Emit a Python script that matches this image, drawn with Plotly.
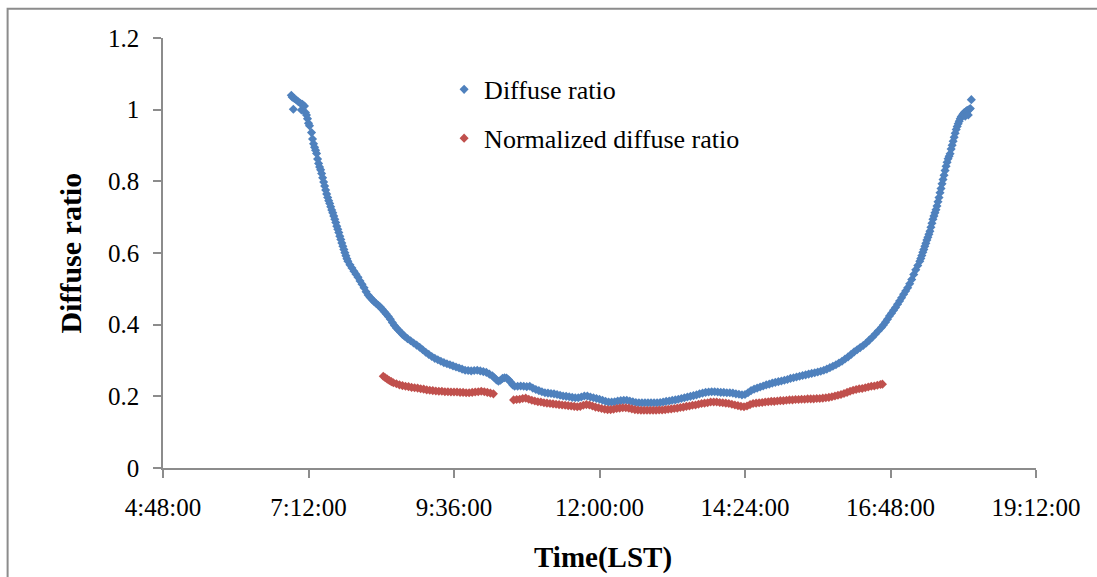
import plotly.graph_objects as go

# ---------------- data ----------------
blue_times = [
    "6:55", "6:56", "6:57", "6:58", "7:00", "7:02", "7:04", "7:05", "7:06", "7:08",
    "7:09", "7:10", "7:11", "7:12", "7:13", "7:15", "7:16", "7:17", "7:18", "7:19",
    "7:20", "7:21", "7:22", "7:23", "7:24", "7:25", "7:26", "7:27", "7:28", "7:29",
    "7:30", "7:31", "7:32", "7:33", "7:34", "7:35", "7:36", "7:37", "7:38", "7:39",
    "7:40", "7:41", "7:42", "7:43", "7:44", "7:45", "7:46", "7:47", "7:48", "7:49",
    "7:50", "7:51", "7:53", "7:55", "7:57", "7:59", "8:01", "8:03", "8:05", "8:07",
    "8:09", "8:11", "8:13", "8:15", "8:17", "8:19", "8:21", "8:23", "8:25", "8:27",
    "8:29", "8:31", "8:33", "8:35", "8:37", "8:39", "8:41", "8:43", "8:45", "8:47",
    "8:50", "8:53", "8:56", "8:59", "9:02", "9:05", "9:08", "9:11", "9:14", "9:17",
    "9:20", "9:23", "9:26", "9:29", "9:32", "9:35", "9:38", "9:41", "9:44", "9:47",
    "9:50", "9:53", "9:56", "9:59", "10:02", "10:05", "10:08", "10:11", "10:14", "10:16",
    "10:18", "10:20", "10:22", "10:24", "10:26", "10:28", "10:30", "10:32", "10:34", "10:36",
    "10:39", "10:42", "10:45", "10:48", "10:51", "10:54", "10:57", "11:00", "11:03", "11:06",
    "11:09", "11:12", "11:15", "11:18", "11:21", "11:24", "11:27", "11:30", "11:33", "11:36",
    "11:39", "11:42", "11:45", "11:48", "11:51", "11:54", "11:57", "12:00", "12:03", "12:06",
    "12:09", "12:12", "12:15", "12:18", "12:21", "12:24", "12:27", "12:30", "12:33", "12:36",
    "12:39", "12:42", "12:45", "12:48", "12:51", "12:54", "12:57", "13:00", "13:03", "13:06",
    "13:09", "13:12", "13:15", "13:18", "13:21", "13:24", "13:27", "13:30", "13:33", "13:36",
    "13:39", "13:42", "13:45", "13:48", "13:51", "13:54", "13:57", "14:00", "14:03", "14:06",
    "14:09", "14:12", "14:15", "14:18", "14:21", "14:24", "14:27", "14:30", "14:33", "14:36",
    "14:39", "14:42", "14:45", "14:48", "14:51", "14:54", "14:57", "15:00", "15:03", "15:06",
    "15:09", "15:12", "15:15", "15:18", "15:21", "15:24", "15:27", "15:30", "15:33", "15:36",
    "15:39", "15:42", "15:45", "15:48", "15:51", "15:54", "15:57", "16:00", "16:03", "16:06",
    "16:09", "16:12", "16:15", "16:18", "16:21", "16:24", "16:27", "16:30", "16:33", "16:36",
    "16:39", "16:41", "16:43", "16:45", "16:47", "16:49", "16:51", "16:53", "16:55", "16:57",
    "16:59", "17:01", "17:03", "17:05", "17:07", "17:09", "17:11", "17:13", "17:15", "17:17",
    "17:18", "17:19", "17:20", "17:21", "17:22", "17:23", "17:24", "17:25", "17:26", "17:27",
    "17:28", "17:29", "17:30", "17:31", "17:32", "17:33", "17:34", "17:35", "17:36", "17:37",
    "17:38", "17:39", "17:40", "17:41", "17:42", "17:43", "17:44", "17:45", "17:46", "17:47",
    "17:48", "17:49", "17:50", "17:51", "17:52", "17:53", "17:54", "17:55", "17:56", "17:57",
    "17:58", "17:59", "18:00", "18:01", "18:02", "18:03", "18:04", "18:05", "18:06", "18:07",
    "18:08",
]
blue_values = [
    1.040, 1.035, 1.001, 1.031, 1.027, 1.022, 1.018, 0.999, 1.015, 1.010,
    0.992, 0.985, 0.975, 0.962, 0.955, 0.936, 0.918, 0.905, 0.895, 0.887,
    0.878, 0.862, 0.850, 0.840, 0.832, 0.822, 0.810, 0.798, 0.787, 0.776,
    0.765, 0.755, 0.746, 0.738, 0.729, 0.720, 0.712, 0.703, 0.694, 0.685,
    0.675, 0.666, 0.657, 0.647, 0.638, 0.628, 0.619, 0.610, 0.601, 0.592,
    0.584, 0.577, 0.567, 0.558, 0.549, 0.541, 0.532, 0.522, 0.513, 0.503,
    0.492, 0.483, 0.476, 0.470, 0.464, 0.459, 0.454, 0.449, 0.443, 0.436,
    0.430, 0.423, 0.415, 0.406, 0.398, 0.391, 0.385, 0.379, 0.373, 0.368,
    0.361, 0.355, 0.349, 0.343, 0.337, 0.330, 0.323, 0.317, 0.311, 0.306,
    0.302, 0.298, 0.294, 0.291, 0.288, 0.285, 0.282, 0.279, 0.276, 0.273,
    0.272, 0.271, 0.272, 0.273, 0.271, 0.269, 0.267, 0.262, 0.257, 0.252,
    0.246, 0.242, 0.245, 0.250, 0.252, 0.251, 0.246, 0.240, 0.232, 0.228,
    0.228, 0.229, 0.228, 0.227, 0.228, 0.223, 0.219, 0.216, 0.213, 0.210,
    0.209, 0.208, 0.207, 0.205, 0.203, 0.201, 0.200, 0.199, 0.197, 0.196,
    0.196, 0.198, 0.201, 0.201, 0.198, 0.196, 0.194, 0.192, 0.189, 0.186,
    0.184, 0.184, 0.185, 0.187, 0.188, 0.189, 0.189, 0.187, 0.185, 0.183,
    0.182, 0.182, 0.182, 0.182, 0.182, 0.182, 0.182, 0.183, 0.184, 0.186,
    0.187, 0.189, 0.190, 0.192, 0.194, 0.196, 0.198, 0.200, 0.202, 0.204,
    0.207, 0.209, 0.211, 0.212, 0.213, 0.213, 0.212, 0.211, 0.211, 0.210,
    0.210, 0.209, 0.207, 0.206, 0.204, 0.205, 0.210, 0.216, 0.220, 0.223,
    0.226, 0.229, 0.232, 0.234, 0.237, 0.239, 0.241, 0.243, 0.245, 0.247,
    0.250, 0.252, 0.254, 0.256, 0.258, 0.260, 0.262, 0.264, 0.266, 0.268,
    0.270, 0.273, 0.276, 0.280, 0.284, 0.288, 0.293, 0.298, 0.304, 0.310,
    0.317, 0.324, 0.330, 0.336, 0.342, 0.349, 0.357, 0.365, 0.374, 0.383,
    0.392, 0.399, 0.407, 0.415, 0.424, 0.432, 0.440, 0.448, 0.457, 0.466,
    0.475, 0.485, 0.494, 0.503, 0.514, 0.526, 0.540, 0.553, 0.565, 0.577,
    0.585, 0.593, 0.602, 0.610, 0.619, 0.627, 0.636, 0.644, 0.652, 0.661,
    0.672, 0.683, 0.694, 0.703, 0.712, 0.721, 0.731, 0.743, 0.755, 0.768,
    0.780, 0.793, 0.805, 0.817, 0.830, 0.842, 0.853, 0.863, 0.870, 0.877,
    0.890, 0.901, 0.912, 0.923, 0.934, 0.945, 0.953, 0.961, 0.968, 0.975,
    0.980, 0.984, 0.988, 0.992, 0.982, 0.996, 0.998, 0.985, 1.001, 1.003,
    1.028,
]

red_times = [
    "8:26", "8:28", "8:30", "8:32", "8:34", "8:36", "8:39", "8:42", "8:45", "8:48",
    "8:51", "8:54", "8:57", "9:00", "9:03", "9:06", "9:09", "9:12", "9:15", "9:18",
    "9:21", "9:24", "9:27", "9:30", "9:33", "9:36", "9:39", "9:42", "9:45", "9:48",
    "9:51", "9:54", "9:57", "10:00", "10:03", "10:06", "10:09", "10:12", "10:15",
    "10:35", "10:38", "10:41", "10:44", "10:47", "10:50", "10:53", "10:56", "10:59", "11:02",
    "11:05", "11:08", "11:11", "11:14", "11:17", "11:20", "11:23", "11:26", "11:29", "11:32",
    "11:35", "11:38", "11:41", "11:44", "11:47", "11:50", "11:53", "11:56", "11:59", "12:02",
    "12:05", "12:08", "12:11", "12:14", "12:17", "12:20", "12:23", "12:26", "12:29", "12:32",
    "12:35", "12:38", "12:41", "12:44", "12:47", "12:50", "12:53", "12:56", "12:59", "13:02",
    "13:05", "13:08", "13:11", "13:14", "13:17", "13:20", "13:23", "13:26", "13:29", "13:32",
    "13:35", "13:38", "13:41", "13:44", "13:47", "13:50", "13:53", "13:56", "13:59", "14:02",
    "14:05", "14:08", "14:11", "14:14", "14:17", "14:20", "14:23", "14:26", "14:29", "14:32",
    "14:35", "14:38", "14:41", "14:44", "14:47", "14:50", "14:53", "14:56", "14:59", "15:02",
    "15:05", "15:08", "15:11", "15:14", "15:17", "15:20", "15:23", "15:26", "15:29", "15:32",
    "15:35", "15:38", "15:41", "15:44", "15:47", "15:50", "15:53", "15:56", "15:59", "16:02",
    "16:05", "16:08", "16:11", "16:14", "16:17", "16:20", "16:23", "16:26", "16:29", "16:32",
    "16:35", "16:38", "16:40",
]
red_values = [
    0.256, 0.252, 0.248, 0.244, 0.241, 0.238, 0.235, 0.232, 0.230, 0.228,
    0.227, 0.225, 0.224, 0.223, 0.221, 0.220, 0.218, 0.217, 0.216, 0.215,
    0.214, 0.214, 0.213, 0.213, 0.212, 0.212, 0.212, 0.211, 0.211, 0.210,
    0.210, 0.211, 0.212, 0.213, 0.214, 0.213, 0.211, 0.209, 0.207,
    0.190, 0.191, 0.192, 0.194, 0.195, 0.192, 0.189, 0.187, 0.185, 0.184,
    0.182, 0.181, 0.180, 0.179, 0.178, 0.177, 0.176, 0.175, 0.174, 0.173,
    0.172, 0.171, 0.172, 0.175, 0.177, 0.176, 0.173, 0.170, 0.168, 0.166,
    0.164, 0.163, 0.163, 0.164, 0.166, 0.167, 0.168, 0.168, 0.167, 0.165,
    0.163, 0.162, 0.161, 0.161, 0.161, 0.161, 0.161, 0.161, 0.162, 0.162,
    0.163, 0.164, 0.165, 0.166, 0.167, 0.169, 0.170, 0.172, 0.173, 0.175,
    0.176, 0.178, 0.180, 0.181, 0.182, 0.184, 0.184, 0.184, 0.183, 0.182,
    0.181, 0.180, 0.178, 0.176, 0.174, 0.172, 0.171, 0.173, 0.177, 0.180,
    0.181, 0.182, 0.183, 0.184, 0.185, 0.186, 0.186, 0.187, 0.188, 0.188,
    0.189, 0.190, 0.190, 0.191, 0.191, 0.192, 0.192, 0.193, 0.193, 0.193,
    0.194, 0.194, 0.195, 0.196, 0.197, 0.199, 0.201, 0.203, 0.205, 0.208,
    0.211, 0.214, 0.217, 0.219, 0.221, 0.222, 0.224, 0.226, 0.228, 0.229,
    0.231, 0.233, 0.234,
]

x_tick_labels = ["4:48:00", "7:12:00", "9:36:00", "12:00:00", "14:24:00", "16:48:00", "19:12:00"]
y_tick_values = [0, 0.2, 0.4, 0.6, 0.8, 1.0, 1.2]
y_tick_labels = ["0", "0.2", "0.4", "0.6", "0.8", "1", "1.2"]

series_names = ["Diffuse ratio", "Normalized diffuse ratio"]
series_colors = ["#4F81BD", "#C0504D"]

DAY = "2000-01-01 "


def to_dt(t):
    parts = t.split(":")
    h, m = parts[0], parts[1]
    s = parts[2] if len(parts) == 3 else "00"
    return f"{DAY}{int(h):02d}:{m}:{s}"


blue_x = [to_dt(t) for t in blue_times]
red_x = [to_dt(t) for t in red_times]
tick_x = [to_dt(t) for t in x_tick_labels]

FONT = "Liberation Serif, Times New Roman, serif"

fig = go.Figure()
fig.add_trace(go.Scatter(
    x=blue_x, y=blue_values, mode="markers", name=series_names[0],
    legendgroup="a",
    marker=dict(symbol="diamond", size=7, color=series_colors[0], line=dict(width=0)),
))
fig.add_trace(go.Scatter(
    x=red_x, y=red_values, mode="markers", name=series_names[1],
    legendgroup="b",
    marker=dict(symbol="diamond", size=7, color=series_colors[1], line=dict(width=0)),
))

axis_color = "#8C8C8C"
x_range = [tick_x[0], tick_x[-1]]

fig.update_layout(
    width=1097, height=577,
    margin=dict(l=163, r=61, t=38, b=109, autoexpand=False),
    paper_bgcolor="white", plot_bgcolor="white",
    font=dict(family=FONT, color="black", size=25),
    xaxis=dict(
        type="date", range=x_range, tickvals=tick_x, ticktext=x_tick_labels,
        showgrid=False, zeroline=False, showline=True, linecolor=axis_color, linewidth=1.5,
        ticks="outside", ticklen=8, tickcolor=axis_color, tickwidth=1.5,
        tickfont=dict(family=FONT, size=25, color="black"),
        ticklabelstandoff=8,
    ),
    yaxis=dict(
        range=[0, 1.2], tickvals=y_tick_values, ticktext=y_tick_labels,
        showgrid=False, zeroline=False, showline=True, linecolor=axis_color, linewidth=1.5,
        ticks="outside", ticklen=8, tickcolor=axis_color, tickwidth=1.5,
        tickfont=dict(family=FONT, size=25, color="black"),
        ticklabelstandoff=9,
    ),
    xaxis2=dict(
        type="date", range=x_range, tickvals=tick_x, overlaying="x", side="bottom",
        showgrid=False, zeroline=False, showline=False, showticklabels=False,
        ticks="inside", ticklen=8, tickcolor=axis_color, tickwidth=1.5, anchor="y",
    ),
    yaxis2=dict(
        range=[0, 1.2], tickvals=y_tick_values, overlaying="y", side="left",
        showgrid=False, zeroline=False, showline=False, showticklabels=False,
        ticks="inside", ticklen=8, tickcolor=axis_color, tickwidth=1.5, anchor="x",
    ),
    legend=dict(
        x=0.322, y=0.935, xanchor="left", yanchor="top",
        bgcolor="rgba(0,0,0,0)", borderwidth=0,
        font=dict(family=FONT, size=26, color="black"),
        tracegroupgap=12, itemwidth=30,
    ),
    showlegend=True,
)

# Axis titles
fig.add_annotation(
    text="<b>Diffuse ratio</b>", xref="paper", yref="paper",
    x=-0.107, y=0.5, xanchor="center", yanchor="middle", textangle=-90,
    showarrow=False, font=dict(family=FONT, size=30, color="black"),
)
fig.add_annotation(
    text="<b>Time(LST)</b>", xref="paper", yref="paper",
    x=0.504, y=-0.208, xanchor="center", yanchor="middle",
    showarrow=False, font=dict(family=FONT, size=29, color="black"),
)

# Chart-area border (extends past the right and bottom edges, as in the reference)
fig.add_shape(
    type="rect", xref="paper", yref="paper",
    x0=-0.178, y0=-0.30, x1=1.10, y1=1.068,
    line=dict(color="#8C8C8C", width=2), fillcolor="rgba(0,0,0,0)", layer="below",
)

fig.write_html("out.html")
